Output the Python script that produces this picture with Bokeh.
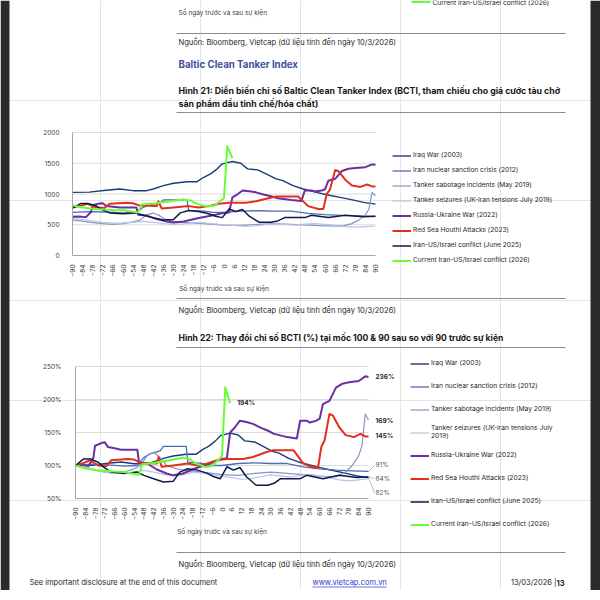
import math
from bokeh.plotting import figure
from bokeh.models import (Range1d, FixedTicker, PrintfTickFormatter, Legend,
                          LegendItem, Label, Arrow, LinearAxis)
from bokeh.embed import file_html
from bokeh.resources import INLINE
from bokeh.core.properties import value

FONT = "Inter"

# ---------------- data (BCTI level, keypoints) ----------------
X_TICKS = list(range(-90, 91, 6))
Y1_TICKS = [0, 500, 1000, 1500, 2000]
Y2_TICKS = [50, 100, 150, 200, 250]

NAMES = ["Iraq War (2003)", "Iran nuclear sanction crisis (2012)",
         "Tanker sabotage incidents (May 2019)", "Tanker seizures (UK-Iran tensions July 2019)",
         "Russia-Ukraine War (2022)", "Red Sea Houthi Attacks (2023)",
         "Iran-US/Israel conflict (June 2025)", "Current Iran-US/Israel conflict (2026)"]
NAMES2 = NAMES[:3] + ["Tanker seizures (UK-Iran tensions July\n2019)"] + NAMES[4:]

IRAQ_D = [-90, -80, -70, -62, -54, -46, -42, -36, -30, -22, -16, -12, -8, -4, -1, 5, 10, 14, 20, 25, 31, 35, 41, 47, 55, 61, 69, 77, 83, 90]
IRAQ_V = [1026, 1030, 1060, 1081, 1054, 1054, 1081, 1136, 1174, 1200, 1200, 1272, 1327, 1409, 1490, 1529, 1500, 1409, 1392, 1327, 1245, 1218, 1136, 1081, 1026, 988, 945, 900, 863, 835]

NUC_D = [-90, -80, -70, -60, -52, -48, -44, -38, -36, -22, -21, -12, -6, 0, 10, 20, 30, 40, 50, 60, 70, 80, 90]
NUC_V = [700, 714, 707, 693, 700, 784, 826, 854, 903, 903, 735, 721, 700, 700, 721, 728, 721, 721, 686, 665, 651, 644, 637]

SAB_D = [-90, -84, -78, -72, -66, -60, -54, -50, -46, -42, -38, -34, -28, -20, -12, -6, 0, 10, 20, 30, 40, 50, 60, 70, 76, 80, 84, 86, 88, 90]
SAB_V = [575, 558, 535, 518, 506, 518, 546, 575, 661, 690, 644, 575, 546, 529, 518, 506, 495, 489, 506, 518, 506, 495, 483, 477, 518, 575, 661, 748, 1024, 972]

SEZ_D = [-90, -84, -78, -72, -66, -60, -54, -48, -42, -36, -30, -24, -18, -12, -6, 0, 6, 12, 18, 24, 30, 36, 42, 48, 54, 60, 66, 72, 78, 84, 90]
SEZ_V = [600, 585, 560, 540, 525, 530, 540, 555, 540, 520, 505, 515, 540, 530, 515, 500, 490, 475, 480, 500, 515, 505, 495, 510, 520, 505, 490, 470, 460, 470, 480]

RUS_D = [-90, -86, -82, -79, -78, -74, -72, -70, -66, -62, -52, -51, -46, -40, -34, -30, -24, -17, -11, -5, 0, 3, 5, 8, 11, 15, 19, 24, 28, 32, 40, 46, 48, 52, 54, 58, 60, 62, 66, 70, 74, 78, 84, 88, 90]
RUS_V = [630, 636, 624, 706, 819, 844, 851, 806, 794, 781, 781, 662, 649, 592, 554, 536, 554, 599, 630, 662, 693, 699, 945, 995, 1058, 1046, 1027, 989, 964, 932, 901, 888, 1058, 1058, 1040, 1058, 1077, 1216, 1247, 1373, 1411, 1424, 1436, 1481, 1474]

RED_D = [-90, -86, -81, -76, -71, -68, -58, -54, -50, -40, -39, -37, -30, -21, -15, -9, -3, 3, 13, 19, 27, 31, 44, 50, 56, 59, 61, 63, 66, 68, 72, 76, 81, 85, 88, 90]
RED_V = [780, 803, 842, 780, 772, 842, 858, 850, 811, 803, 881, 764, 780, 803, 780, 803, 842, 858, 858, 881, 936, 959, 959, 803, 757, 757, 998, 1076, 1388, 1373, 1232, 1139, 1115, 1154, 1123, 1123]

IUS_D = [-90, -85, -81, -76, -73, -68, -60, -52, -48, -42, -36, -30, -26, -21, -15, -9, -5, -1, 3, 7, 11, 15, 21, 28, 32, 36, 48, 52, 62, 72, 83, 90]
IUS_V = [770, 847, 847, 808, 755, 693, 678, 693, 655, 616, 578, 585, 693, 732, 716, 678, 639, 616, 755, 716, 747, 639, 539, 539, 562, 616, 616, 655, 616, 655, 631, 639]

CUR_D = [-90, -84, -78, -72, -66, -60, -54, -51, -49, -42, -36, -30, -24, -20, -16, -10, -6, -3, 0, 2, 5]
CUR_V = [815, 780, 760, 750, 740, 735, 710, 700, 830, 845, 865, 890, 912, 895, 840, 795, 810, 870, 930, 1780, 1585]

DAYS = [IRAQ_D, NUC_D, SAB_D, SEZ_D, RUS_D, RED_D, IUS_D, CUR_D]
VALS = [IRAQ_V, NUC_V, SAB_V, SEZ_V, RUS_V, RED_V, IUS_V, CUR_V]

# end-of-line labels on chart 2: (series index, text, bold, y offset px)
END_LABELS = [(4, "236%", True, 0), (2, "169%", True, -1), (5, "145%", True, 0),
              (1, "91%", False, 6), (6, "84%", False, -2), (0, "82%", False, -15)]

COLORS = ["#1f3a7a", "#4a6db5", "#8696c8", "#b9c2e2", "#6a2fa0", "#e2301f", "#10184a", "#66ff33"]
WIDTHS = [1.4, 1.3, 1.2, 1.2, 2.0, 2.0, 1.5, 2.0]

TXT = "#262626"
AX = "#404040"
W, H = 600, 590

# one page-sized figure: its default ranges are page pixels (y downwards)
p = figure(width=W, height=H, x_range=Range1d(0, W), y_range=Range1d(H, 0),
           x_axis_location=None, y_axis_location=None, min_border=0,
           toolbar_location=None, output_backend="svg",
           background_fill_color="white", border_fill_color="white")
p.outline_line_color = None

# dark page surround
p.quad(left=[0, 590], right=[9, 600], top=[0, 0], bottom=[H, H],
       fill_color="#2b2b2b", line_color=None)


def put_text(x, y, s, size, color=TXT, bold=False, align="left"):
    p.text(x=[x], y=[y], text=[s], text_font=value(FONT), text_font_size=value(f"{size}px"),
           text_font_style="bold" if bold else "normal", text_color=color,
           text_align=align, text_baseline="middle")


def rule(y):
    p.segment(x0=[176], y0=[y], x1=[565], y1=[y], line_color="#8c8c8c", line_width=1)


def add_chart(key, fx0, fx1, fy_top, fy_bot, ylo, yhi, yticks, series, names, leg_left, leg_top,
              item_h, leg_size, ylab_standoff, fmt=None):
    kx = (fx1 - fx0) / 180.0
    ky = (fy_bot - fy_top) / float(yhi - ylo)
    xn, yn = key + "x", key + "y"
    p.extra_x_ranges[xn] = Range1d(-90 - fx0 / kx, 90 + (W - fx1) / kx)
    p.extra_y_ranges[yn] = Range1d(ylo - (H - fy_bot) / ky, yhi + fy_top / ky)
    # horizontal grid lines at the y ticks, across the plotted day span
    n = len(yticks)
    p.segment(x0=[X_TICKS[0]] * n, x1=[X_TICKS[-1]] * n, y0=yticks, y1=yticks,
              x_range_name=xn, y_range_name=yn, line_color="#dcdcdc", line_width=1)
    xa = LinearAxis(x_range_name=xn, y_range_name=yn, fixed_location=ylo,
                    bounds=(X_TICKS[0], X_TICKS[-1]), ticker=FixedTicker(ticks=X_TICKS))
    ya = LinearAxis(x_range_name=xn, y_range_name=yn, fixed_location=X_TICKS[0],
                    bounds=(ylo, yhi), ticker=FixedTicker(ticks=yticks))
    if fmt is not None:
        ya.formatter = fmt
    for ax in (xa, ya):
        ax.axis_line_color = "#a6a6a6"
        ax.major_tick_line_color = None
        ax.minor_tick_line_color = None
        ax.major_label_text_font = FONT
        ax.major_label_text_font_size = "6.5px"
        ax.major_label_text_color = AX
    xa.major_label_orientation = math.pi / 2
    xa.major_label_standoff = 3
    ya.major_label_standoff = ylab_standoff
    xa.axis_label = "Số ngày trước và sau sự kiện"
    xa.axis_label_text_font = FONT
    xa.axis_label_text_font_size = "6.6px"
    xa.axis_label_text_font_style = "normal"
    xa.axis_label_text_color = AX
    xa.axis_label_standoff = 5
    p.add_layout(xa, "below")
    p.add_layout(ya, "left")
    rends = []
    for (d, v), c, w in zip(series, COLORS, WIDTHS):
        rends.append(p.line(d, v, x_range_name=xn, y_range_name=yn, line_color=c,
                            line_width=w, line_join="round"))
    items = [LegendItem(label=nm, renderers=[r]) for nm, r in zip(names, rends)]
    leg_h = item_h * len(items)
    leg = Legend(items=items, location=(leg_left, H - leg_top - leg_h), orientation="vertical",
                 padding=0, spacing=0, margin=0, border_line_color=None,
                 background_fill_alpha=0, glyph_width=19, glyph_height=item_h,
                 label_height=item_h, label_standoff=2, label_text_font=FONT,
                 label_text_font_size=f"{leg_size}px", label_text_color=TXT)
    p.add_layout(leg)
    return xn, yn


# ---------------- tail of the previous figure + headings ----------------
put_text(178, 12, "Số ngày trước và sau sự kiện", 6.5, AX)
p.segment(x0=[411], y0=[1.5], x1=[430], y1=[1.5], line_color="#66ff33", line_width=2)
put_text(432, 2.5, "Current Iran-US/Israel conflict (2026)", 6.6)
rule(33)
put_text(178, 42, "Nguồn: Bloomberg, Vietcap (dữ liệu tính đến ngày 10/3/2026)", 7.5)
put_text(178, 64, "Baltic Clean Tanker Index", 9.7, "#3f4fa0", bold=True)
put_text(178, 90, "Hình 21: Diễn biến chỉ số Baltic Clean Tanker Index (BCTI, tham chiếu cho giá cước tàu chở", 8.75, "#161616", bold=True)
put_text(178, 103, "sản phẩm dầu tinh chế/hóa chất)", 8.75, "#161616", bold=True)
rule(112)

# ---------------- chart 1 ----------------
add_chart("c1", 72, 375, 132, 255, 0, 2000, Y1_TICKS, list(zip(DAYS, VALS)), NAMES,
          392, 147.5, 15, 6.6, 7)

# ---------------- middle text ----------------
rule(298)
put_text(178, 310, "Nguồn: Bloomberg, Vietcap (dữ liệu tính đến ngày 10/3/2026)", 7.5)
put_text(178, 337, "Hình 22: Thay đổi chỉ số BCTI (%) tại mốc 100 & 90 sau so với 90 trước sự kiện", 8.6, "#161616", bold=True)
rule(347)

# ---------------- chart 2 (index relative to day -90) ----------------
PCTS = [[x / v[0] * 100 for x in v] for v in VALS]
xn2, yn2 = add_chart("c2", 75, 368, 366, 498, 50, 250, Y2_TICKS, list(zip(DAYS, PCTS)), NAMES2,
                     410, 351.5, 23, 6.7, 8, fmt=PrintfTickFormatter(format="%d%%"))

for idx, s, bold, dy in END_LABELS:
    yv = PCTS[idx][-1]
    p.add_layout(Label(x=DAYS[idx][-1], y=yv, x_range_name=xn2, y_range_name=yn2, x_offset=7,
                       y_offset=dy, text=s, text_font=FONT, text_font_size="6.5px",
                       text_font_style="bold" if bold else "normal",
                       text_color=TXT if bold else "#555555", text_baseline="middle"))
    if not bold:
        p.add_layout(Arrow(end=None, x_start=DAYS[idx][-1], y_start=yv, x_end=DAYS[idx][-1] + 3.7,
                           y_end=yv + dy / 0.66, x_range_name=xn2, y_range_name=yn2,
                           line_color="#a0a0a0", line_width=0.7))
p.add_layout(Label(x=CUR_D[-1], y=PCTS[7][-1], x_range_name=xn2, y_range_name=yn2, x_offset=7,
                   text="194%", text_font=FONT, text_font_size="6.5px", text_font_style="bold",
                   text_color=TXT, text_baseline="middle"))

# ---------------- bottom text ----------------
rule(552)
put_text(178, 564, "Nguồn: Bloomberg, Vietcap (dữ liệu tính đến ngày 10/3/2026)", 7.5)
put_text(29, 582, "See important disclosure at the end of this document", 7.5)
put_text(312, 582, "www.vietcap.com.vn", 7.5, "#2b35c8")
p.segment(x0=[312], y0=[586.5], x1=[386], y1=[586.5], line_color="#2b35c8", line_width=0.7)
put_text(564, 582, "13", 7.5, bold=True, align="right")
put_text(556, 582, "13/03/2026 |", 7.5, align="right")

open("out.html", "w").write(file_html(p, INLINE))
